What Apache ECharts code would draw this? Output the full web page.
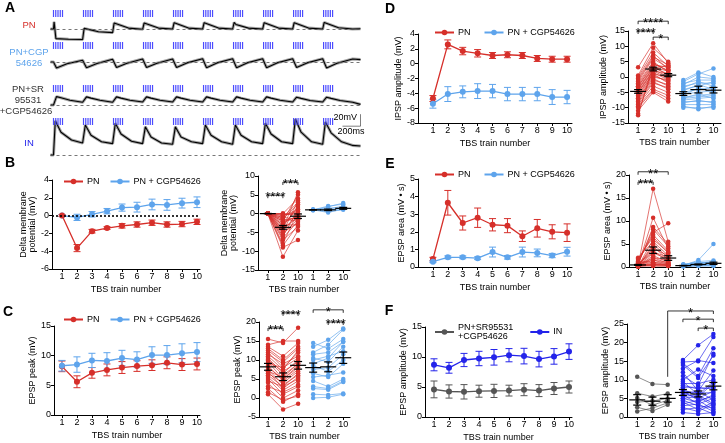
<!DOCTYPE html>
<html>
<head>
<meta charset="utf-8">
<script src="https://cdn.jsdelivr.net/npm/echarts@6/dist/echarts.min.js"></script>
<style>
  html, body { margin: 0; padding: 0; background: #fff; }
  #fig { width: 725px; height: 443px; }
</style>
</head>
<body>
<div id="fig"></div>
<script>
// ---------------- data ----------------
const trains = [1, 2, 3, 4, 5, 6, 7, 8, 9, 10];
const pairTicks = ['1', '2', '10', '1', '2', '10'];

// A: example traces, mV relative to baseline, sampled at phase fractions of each train
const trainOnset = [0, 1, 2, 3, 4, 5, 6, 7, 8, 9];
const burstOffset = [0, 0.075, 0.15, 0.225, 0.3];
const pnPhase = [0.02, 0.08, 0.5, 0.97];
const pnPeak  = [12, 1, 10, 10, 10.5, 10.5, 11, 10.5, 10.5, 11];
const pnEarly = [-16, -2, 7, 7, 7.5, 7.5, 7.5, 7.5, 7.5, 8];
const pnLate  = [-17, -4.5, 1.5, 1.5, 1.5, 1.5, 1.5, 1.5, 1.5, 2];
const pnEnd   = [-17.5, -6, -0.5, 0, 0, 0, 0, 0, 0, 0];
const pnTail = 0.5;
const cgpPhase = [0.02, 0.1, 0.45, 0.97];
const cgpPeak  = [3, 6, 6.5, 6.5, 7, 7, 7, 7, 7, 7];
const cgpEarly = [-10, -9.5, -9, -9, -9, -9.5, -9.5, -9.5, -9, -10];
const cgpLate  = [-3, -2.5, -2, -2, -1.5, -1.5, -1.5, -1.5, -1.5, -2];
const cgpEnd   = [3, 4.5, 5, 5, 5.5, 5.5, 5.5, 5.5, 5.5, 5];
const cgpTail = 4;
const srPhase = [0.1, 0.25, 0.55, 0.97];
const srPeak  = [14, 13.5, 13.5, 13.5, 13.5, 13.5, 13.5, 13.5, 13, 13];
const srEarly = [12, 11.5, 11.5, 11.5, 11.5, 11.5, 11.5, 11.5, 11, 11];
const srLate  = [8, 8, 8, 8, 8, 8, 8, 8, 7.5, 7.5];
const srEnd   = [4.5, 4.5, 5, 5, 5, 5, 5, 5, 5, 4.5];
const srTail = 1;
const inPhase = [0.06, 0.25, 0.6, 0.97];
const inPeak  = [57, 50, 53, 47, 47, 50, 50, 53, 60, 55];
const inEarly = [38, 33, 35, 30, 30, 33, 33, 35, 38, 37];
const inLate  = [25, 22, 23, 20, 22, 22, 22, 22, 22, 22];
const inEnd   = [20, 19, 19, 18, 19, 18, 19, 19, 18, 16];
const inTail = 15;

// B: delta membrane potential (mV)
const bPN     = [0, -3.65, -1.75, -1.4, -1.15, -1.0, -0.8, -1.0, -0.95, -0.7];
const bPNErr  = [0.1, 0.4, 0.2, 0.15, 0.25, 0.3, 0.3, 0.3, 0.3, 0.3];
const bCGP    = [0, -0.2, 0.15, 0.5, 0.9, 0.95, 1.25, 1.2, 1.4, 1.5];
const bCGPErr = [0.1, 0.35, 0.3, 0.3, 0.4, 0.55, 0.6, 0.6, 0.55, 0.6];
const bPN_t1  = [0, 0, 0, 0, 0, 0, 0, 0, 0, 0, 0, 0, 0, 0, 0, 0, 0, 0, 0, 0, 0, 0, 0, 0, 0, 0, 0, 0];
const bPN_t2  = [-11.5, -9, -8.5, -8, -7, -6.5, -6, -5.5, -5, -5, -4.5, -4, -4, -3.5, -3, -3, -2.5, -2, -2, -1.5, -1.5, -1, -1, -0.5, -0.5, 0, 0, -0.2];
const bPN_t10 = [-4.5, -7, -3, 0.5, -3.5, -2, 1, -1.5, 3.5, -2.5, 0, 5.7, -1, 2, -3, 1.5, -0.5, 5, -1, 2.5, -2, 3, -1.5, 0.5, 1, -0.5, 4, 0];
const bCGP_t1  = [1.0, 1.0, 0.9, 1.0, 1.1, 1.0, 0.9, 1.0];
const bCGP_t2  = [0.3, 0.6, 0.8, 1.0, 1.2, 1.5, 1.8, 2.0];
const bCGP_t10 = [1.2, 1.0, 1.6, 1.3, 2.0, 1.5, 2.8, 2.5];
const bPairPN = [0, -3.65, -0.7], bPairPNSem = [0.05, 0.5, 0.6];
const bPairCGP = [1.0, 1.0, 1.4], bPairCGPSem = [0.05, 0.2, 0.25];
const bSig = [[1, 2, 4.9, '****'], [2, 3, 8.4, '***']];

// C: EPSP peak (mV)
const cPN     = [8.2, 5.6, 7.1, 7.6, 8.0, 8.25, 8.4, 8.8, 8.5, 8.6];
const cPNErr  = [0.9, 1.0, 0.9, 1.0, 1.0, 0.9, 0.9, 1.0, 1.0, 1.0];
const cCGP    = [8.3, 8.5, 9.2, 9.1, 9.6, 9.35, 10.1, 10.1, 10.4, 10.6];
const cCGPErr = [0.9, 1.3, 1.2, 1.4, 1.3, 1.3, 1.4, 1.6, 1.6, 1.6];
const cPN_t1  = [15.5, 14, 13.5, 13, 12.5, 12, 11.5, 11, 10.5, 10, 10, 9.5, 9, 8.5, 8, 7.5, 7, 7, 6.5, 6, 5.5, 5, 4.5, 4, 3, 2.5, 1.5, 1];
const cPN_t2  = [14.5, 15, 11, 10, 9.5, 8, 9, 7.5, 6.5, 7, 6, 5, 8, 4.5, 5, 3.5, 5.5, 2.5, 4, 3, 2, 1, 3, 0, 1.5, -1, -0.5, -3];
const cPN_t10 = [18.5, 15, 14.5, 13.5, 13, 12, 11, 12.5, 10, 9.5, 9, 8, 10.5, 7.5, 8.5, 6, 9, 5.5, 7, 5, 4.5, 3, 6.5, 2, 3.5, 1, 0.5, -1.5];
const cCGP_t1  = [14.5, 13.5, 12, 11.5, 10.5, 10, 9, 8.5, 7.5, 6.5, 5.5, 4.5, 3, 2.5, 1, 0];
const cCGP_t2  = [13, 15.3, 14, 12, 9.5, 11, 10.5, 7, 8, 5.5, 6, 3, 2.5, 2.2, 0.8, 0.2];
const cCGP_t10 = [15.5, 18.3, 18, 14.8, 13.5, 12.3, 14.8, 10, 11.5, 9, 6.7, 5, 4.5, 4.2, 1.2, 1];
const cPairPN = [8.2, 5.6, 8.6], cPairPNSem = [0.9, 1.0, 1.0];
const cPairCGP = [8.0, 8.2, 10.6], cPairCGPSem = [1.2, 1.3, 1.5];
const cSig = [[1, 2, 18.4, '***'], [2, 3, 22.4, '****'], [4, 6, 23.2, '*'], [5, 6, 20, '****']];

// D: IPSP amplitude (mV)
const dPN     = [-4.7, 2.6, 1.7, 1.4, 1.1, 1.2, 1.1, 0.7, 0.6, 0.6];
const dPNErr  = [0.4, 0.6, 0.5, 0.5, 0.4, 0.4, 0.4, 0.4, 0.4, 0.4];
const dCGP    = [-5.4, -4.1, -3.8, -3.7, -3.7, -4.1, -4.1, -4.1, -4.5, -4.5];
const dCGPErr = [0.6, 1.0, 0.8, 1.0, 0.9, 0.9, 0.9, 0.9, 1.0, 0.9];
const dPN_t1  = [3.2, 0.5, 0, -0.5, -1, -1.5, -2, -2.5, -3, -3, -3.5, -4, -4, -4.5, -5, -5, -5.5, -6, -6.5, -7, -7, -7.5, -8, -8.5, -9, -9.5, -10, -11, -12, -12.5];
const dPN_t2  = [11, 9.5, 8, 7, 6.5, 6, 5, 4.5, 4, 3.5, 3, 3, 2.5, 2, 2, 1.5, 1, 1, 0.5, 0, -0.5, -1, -1.5, -2, -3, -4, -4.5, -5, 2.8, 4.2];
const dPN_t10 = [4.5, 5, 3.5, 2.5, 4, 3, 1.5, 2, 3.2, 0.5, 1, 2, 0, -0.5, 1, -1, 0, -2, -1.5, -1, -3, -2.5, -4, -3.5, -5, -6, -7, -8, 3.8, 2.2];
const dCGP_t1  = [-1, -1.5, -2, -2.5, -3, -3.5, -4, -4.5, -5, -5.5, -6, -6.5, -7, -7, -7.5, -8, -8.5, -9, -9.5, -10];
const dCGP_t2  = [1.5, 1, -1, 0, -2, -1.5, -3, -2.5, -4, -5, -3.5, -6, -6.5, -5.5, -7, -8, -7.5, -9, -10.5, -10];
const dCGP_t10 = [0, 2.8, -1, -0.5, -2, -3, -1.5, -4, -3.5, -4.5, -5, -5.5, -6, -7, -6.5, -8, -8.5, -9, -9.5, -10];
const dPairPN = [-4.7, 2.6, 0.6], dPairPNSem = [0.6, 0.6, 0.5];
const dPairCGP = [-5.4, -4.1, -4.3], dPairCGPSem = [0.6, 1.1, 0.9];
const dSig = [[1, 3, 18.2, '****'], [1, 2, 15, '****'], [2, 3, 13, '*']];

// E: EPSP area (mV*s)
const ePN     = [0.45, 3.65, 2.5, 2.8, 2.4, 2.35, 1.75, 2.2, 2.0, 1.95];
const ePNErr  = [0.1, 0.7, 0.4, 0.55, 0.35, 0.4, 0.3, 0.5, 0.4, 0.5];
const eCGP    = [0.3, 0.55, 0.55, 0.5, 0.85, 0.55, 0.85, 0.8, 0.65, 0.87];
const eCGPErr = [0.05, 0.08, 0.08, 0.08, 0.28, 0.1, 0.28, 0.22, 0.12, 0.25];
const ePN_t1  = [0.2, 0.3, 0.5, 0.8, 1, 1.5, 1.8, 2, 0.1, 0.2, 0.4, 0.6, 0.3, 0.2, 0.5, 0.1, 0.3, 0.7, 1.2, 0.4, 0.2, 0.1, 0.3, 0.5, 0.2, 0.6, 0.1, 0.3];
const ePN_t2  = [17, 10.7, 8.7, 8.2, 7.5, 7, 6.5, 5.5, 5, 4.5, 4, 3.5, 3, 2.5, 2, 2, 1.5, 1.5, 1, 1, 0.8, 0.5, 0.5, 0.3, 0.2, 3.2, 6, 0.6];
const ePN_t10 = [5.5, 4, 5, 4.5, 9.5, 3.5, 3, 2.5, 2, 1.5, 2.5, 1.2, 1.8, 1, 0.8, 1.5, 0.6, 1, 0.5, 0.8, 0.4, 0.3, 0.5, 0.2, 0.2, 2.2, 3.2, 0.4];
const eCGP_t1  = [0.2, 0.3, 0.4, 0.5, 0.3, 0.2, 0.6, 0.4, 0.1, 0.3, 0.5, 0.2];
const eCGP_t2  = [0.4, 1.5, 0.8, 1.2, 0.5, 0.3, 1.0, 0.6, 0.2, 0.7, 0.9, 0.4];
const eCGP_t10 = [0.5, 5, 1.2, 1.4, 0.6, 0.3, 0.9, 0.7, 0.2, 1.1, 0.8, 0.4];
const ePairPN = [0.45, 3.65, 1.95], ePairPNSem = [0.1, 0.7, 0.5];
const ePairCGP = [0.3, 0.55, 0.8], ePairCGPSem = [0.05, 0.1, 0.25];
const eSig = [[1, 3, 20.7, '**'], [1, 2, 18.5, '***']];

// F: EPSP amplitude (mV)
const fSR     = [4.6, 4.25, 4.2, 4.3, 4.35, 4.4, 4.55, 4.4, 4.75, 5.0];
const fSRErr  = [1.4, 1.1, 1.2, 1.0, 1.1, 0.9, 1.0, 1.0, 1.0, 1.0];
const fIN     = [8.7, 8.2, 9.5, 9.75, 9.95, 10.3, 10.15, 9.65, 10.1, 10.9];
const fINErr  = [1.0, 0.9, 1.1, 1.2, 1.3, 1.1, 1.3, 1.3, 1.3, 1.3];
const fSR_t1  = [10.8, 6.4, 5.1, 4, 2.6, 1.5];
const fSR_t2  = [8.9, 5.5, 3.2, 4.3, 1.6, 2.4];
const fSR_t10 = [8.7, 6.3, 4.5, 5.0, 3.3, 3.8];
const fIN_t1  = [15.3, 14.8, 14.5, 14, 13, 12, 11, 10, 9.5, 9, 8.5, 8, 7.5, 7, 7, 6.5, 6, 6, 5.5, 5, 5, 4.5, 4, 3.5, 3, 2.5, 2, 1.2];
const fIN_t2  = [19.3, 15, 11, 10.5, 15.2, 7, 8.5, 12.8, 6, 9, 7.5, 8, 5.5, 6.5, 4.5, 5, 7, 3.5, 6, 4, 5.5, 3, 2, 4.5, 3.5, 1.5, 2.5, 0.8];
const fIN_t10 = [22.3, 21.5, 18.5, 16.5, 14.5, 12.5, 17, 11, 9.5, 10, 8, 7.5, 9, 6.5, 5.5, 7, 4.5, 5, 3.5, 6, 3, 2.5, 4, 2, 1.5, 3.5, 0.8, 1.2];
const fPairSR = [4.6, 4.25, 5.0], fPairSRSem = [1.4, 1.1, 1.0];
const fPairIN = [6.6, 6.2, 8.3], fPairINSem = [0.8, 0.8, 1.0];
const fSig = [[3, 6, 28.5, '*', 10.8], [4, 6, 26.3, '*'], [5, 6, 23.9, '*']];

// ---------------- styling ----------------
const RED = '#d62f2a', BLUE = '#5ea4ec', GRAY = '#555555', INBLUE = '#2323ea', STIM = '#4b4bff';
const FONT = '"Liberation Sans", Arial, Helvetica, sans-serif';
const MV_PX = 0.6;   // trace scale: px per mV
const grids = [], xAxis = [], yAxis = [], series = [], legend = [], graphic = [];

function addGrid(box, xa, ya) {
  const gi = grids.length;
  grids.push(box);
  xAxis.push(Object.assign({ gridIndex: gi }, xa));
  yAxis.push(Object.assign({ gridIndex: gi }, ya));
  return gi;
}
const axLine = { show: true, onZero: false, lineStyle: { color: '#000', width: 1 } };
const axName = { fontSize: 9, color: '#000', fontFamily: FONT };

function trainX(min, max) {
  return { type: 'value', min, max, axisLine: axLine, splitLine: { show: false },
    axisTick: { show: true, length: 3, customValues: trains, lineStyle: { color: '#000' } },
    axisLabel: { customValues: trains, fontSize: 9, color: '#000', margin: 3, fontFamily: FONT },
    name: 'TBS train number', nameLocation: 'middle', nameGap: 16, nameTextStyle: axName };
}
function pairX(min, max) {
  const pos = [1, 2, 3, 4, 5, 6];
  return { type: 'value', min, max, axisLine: axLine, splitLine: { show: false },
    axisTick: { show: true, length: 3, customValues: pos, lineStyle: { color: '#000' } },
    axisLabel: { customValues: pos, fontSize: 9, color: '#000', margin: 3, fontFamily: FONT,
      formatter: v => pairTicks[Math.round(v) - 1] },
    name: 'TBS train number', nameLocation: 'middle', nameGap: 15, nameTextStyle: axName };
}
function valY(min, max, interval, name, gap) {
  return { type: 'value', min, max, interval, axisLine: axLine, splitLine: { show: false },
    axisTick: { show: true, length: 3, lineStyle: { color: '#000' } },
    axisLabel: { fontSize: 9, color: '#000', margin: 3, fontFamily: FONT },
    name, nameLocation: 'middle', nameRotate: 90, nameGap: gap, nameTextStyle: axName };
}
function hidden(min, max) {
  return { type: 'value', min, max, show: false, splitLine: { show: false } };
}

function errRender(params, api) {
  const x = api.value(0), lo = api.coord([x, api.value(1)]), hi = api.coord([x, api.value(2)]);
  const st = { stroke: api.visual('color'), lineWidth: 1 };
  return { type: 'group', children: [
    { type: 'line', shape: { x1: lo[0], y1: lo[1], x2: hi[0], y2: hi[1] }, style: st },
    { type: 'line', shape: { x1: lo[0] - 3.5, y1: lo[1], x2: lo[0] + 3.5, y2: lo[1] }, style: st },
    { type: 'line', shape: { x1: hi[0] - 3.5, y1: hi[1], x2: hi[0] + 3.5, y2: hi[1] }, style: st }
  ] };
}
function meanRender(params, api) {
  const x = api.value(0), m = api.value(1), s = api.value(2);
  const c = api.coord([x, m]), lo = api.coord([x, m - s]), hi = api.coord([x, m + s]);
  const st = { stroke: '#000', lineWidth: 1.2 };
  return { type: 'group', children: [
    { type: 'line', shape: { x1: c[0] - 8, y1: c[1], x2: c[0] + 8, y2: c[1] }, style: st },
    { type: 'line', shape: { x1: c[0], y1: lo[1], x2: c[0], y2: hi[1] }, style: st },
    { type: 'line', shape: { x1: c[0] - 4, y1: lo[1], x2: c[0] + 4, y2: lo[1] }, style: st },
    { type: 'line', shape: { x1: c[0] - 4, y1: hi[1], x2: c[0] + 4, y2: hi[1] }, style: st }
  ] };
}

function meanSeries(gi, name, color, means, errs, extra) {
  series.push({ type: 'custom', xAxisIndex: gi, yAxisIndex: gi, silent: true, z: 2,
    itemStyle: { color }, renderItem: errRender, encode: { x: 0, y: [1, 2] },
    data: means.map((m, i) => [trains[i], m - errs[i], m + errs[i]]) });
  series.push(Object.assign({ type: 'line', name, xAxisIndex: gi, yAxisIndex: gi, z: 3,
    data: means.map((m, i) => [trains[i], m]), symbol: 'circle', symbolSize: 6,
    itemStyle: { color }, lineStyle: { color, width: 1.3 } }, extra || {}));
}
function pairSeries(gi, color, off, t1, t2, t10, mean, sem) {
  const xs = [off + 1, off + 2, off + 3];
  series.push({ type: 'lines', coordinateSystem: 'cartesian2d', xAxisIndex: gi, yAxisIndex: gi,
    polyline: true, silent: true, z: 1, lineStyle: { color, width: 0.7, opacity: 0.95 },
    data: t1.map((v, i) => ({ coords: [[xs[0], v], [xs[1], t2[i]], [xs[2], t10[i]]] })) });
  const pts = [];
  t1.forEach((v, i) => { pts.push([xs[0], v], [xs[1], t2[i]], [xs[2], t10[i]]); });
  series.push({ type: 'scatter', xAxisIndex: gi, yAxisIndex: gi, silent: true, z: 2,
    symbolSize: 4.5, itemStyle: { color, opacity: 1 }, data: pts });
  series.push({ type: 'custom', xAxisIndex: gi, yAxisIndex: gi, silent: true, z: 4,
    renderItem: meanRender, encode: { x: 0, y: 1 }, data: mean.map((m, i) => [xs[i], m, sem[i]]) });
}
function sigSeries(gi, list) {
  series.push({ type: 'custom', xAxisIndex: gi, yAxisIndex: gi, silent: true, z: 5, clip: false,
    encode: { x: 0, y: 1 }, data: list.map(b => [b[0], b[2]]),
    renderItem: function (params, api) {
      const b = list[params.dataIndex];
      const a = api.coord([b[0], b[2]]), c = api.coord([b[1], b[2]]);
      const leftEnd = b.length > 4 ? api.coord([b[0], b[4]])[1] : a[1] + 3;
      return { type: 'group', children: [
        { type: 'polyline', shape: { points: [[a[0], leftEnd], a, c, [c[0], c[1] + 3]] },
          style: { stroke: '#000', lineWidth: 0.8, fill: null } },
        { type: 'text', style: { text: b[3], x: (a[0] + c[0]) / 2, y: a[1] + 2.5, align: 'center',
          verticalAlign: 'middle', fontSize: 13, fill: '#000', fontFamily: FONT } }
      ] };
    } });
}
function panelLegend(left, top, names, gap) {
  legend.push({ left, top, padding: 0, itemWidth: 19, itemHeight: 7, itemGap: gap,
    textStyle: { fontSize: 9, color: '#000', fontFamily: FONT, padding: [0, 0, 0, -1] },
    data: names, selectedMode: false });
}
function label(text, x, y, color, opts) {
  graphic.push({ type: 'text', x, y, silent: true, style: Object.assign({ text, fill: color,
    fontSize: 9.5, fontFamily: FONT, align: 'center', verticalAlign: 'middle' }, opts || {}) });
}

// ---------------- panel A: traces ----------------
function tracePoints(phase, peak, early, late, end, tail) {
  const pts = [[-0.1, 0]];
  let prev = 0;
  trainOnset.forEach((t, i) => {
    pts.push([t, prev], [t + phase[0], peak[i]], [t + phase[1], early[i]],
             [t + phase[2], late[i]], [t + phase[3], end[i]]);
    prev = end[i];
  });
  pts.push([10.23, tail]);
  return pts;
}
const stimTimes = [];
trainOnset.forEach(t => burstOffset.forEach(o => stimTimes.push([t + o, 0])));

const rowLayout = [
  { top: 10, base: 29, bottom: 45 },
  { top: 42, base: 62, bottom: 72 },
  { top: 85, base: 105, bottom: 110 },
  { top: 118, base: 155, bottom: 160 }
];
const rowTraces = [
  tracePoints(pnPhase, pnPeak, pnEarly, pnLate, pnEnd, pnTail),
  tracePoints(cgpPhase, cgpPeak, cgpEarly, cgpLate, cgpEnd, cgpTail),
  tracePoints(srPhase, srPeak, srEarly, srLate, srEnd, srTail),
  tracePoints(inPhase, inPeak, inEarly, inLate, inEnd, inTail)
];
const rowGrids = rowLayout.map((r, k) => {
  const gi = addGrid({ left: 50.5, top: r.top, width: 310, height: r.bottom - r.top },
    hidden(-0.1, 10.23), hidden(-(r.bottom - r.base) / MV_PX, (r.base - r.top) / MV_PX));
  series.push({ type: 'line', xAxisIndex: gi, yAxisIndex: gi, data: rowTraces[k], symbol: 'none',
    silent: true, clip: false, z: 1, lineStyle: { color: '#a5a5a5', width: 3 } });
  series.push({ type: 'line', xAxisIndex: gi, yAxisIndex: gi, data: rowTraces[k], symbol: 'none',
    silent: true, clip: false, z: 2, lineStyle: { color: '#000', width: 1.1 },
    markLine: { silent: true, symbol: 'none', label: { show: false },
      lineStyle: { type: [3, 3], color: '#555', width: 0.8 }, data: [{ yAxis: 0 }] } });
  series.push({ type: 'custom', xAxisIndex: gi, yAxisIndex: gi, silent: true, z: 3,
    encode: { x: 0, y: 1 }, data: stimTimes,
    renderItem: function (params, api) {
      const x = api.coord([api.value(0), 0])[0], y0 = params.coordSys.y;
      return { type: 'line', shape: { x1: x, y1: y0, x2: x, y2: y0 + 7 },
        style: { stroke: STIM, lineWidth: 1.2 } };
    } });
  return gi;
});
// scale bar: 200 ms (0.6 train units) and 20 mV, drawn in the IN row
series.push({ type: 'lines', coordinateSystem: 'cartesian2d', xAxisIndex: rowGrids[3],
  yAxisIndex: rowGrids[3], polyline: true, silent: true, clip: false,
  lineStyle: { color: '#000', width: 1 },
  data: [{ coords: [[9.63, 48], [10.23, 48], [10.23, 68]] }] });
label('20mV', 357, 118, '#000', { align: 'right', fontSize: 9 });
label('200ms', 351, 132, '#000', { fontSize: 9 });

label('PN', 29, 25, RED);
label('PN+CGP', 29, 52, BLUE);
label('54626', 29, 63, BLUE);
label('PN+SR', 28, 89, '#333');
label('95531', 28, 100, '#333');
label('+CGP54626', 26, 111, '#333');
label('IN', 29, 143, INBLUE);

// ---------------- panels B-F ----------------
let g;
// B
g = addGrid({ left: 52, top: 180, width: 148, height: 89 }, trainX(0.33, 10.2),
  valY(-6, 4, 2, 'Delta membrane\npotential (mV)', 13));
meanSeries(g, 'PN + CGP54626', BLUE, bCGP, bCGPErr, {
  markLine: { silent: true, symbol: 'none', label: { show: false },
    lineStyle: { type: [2, 2], color: '#000', width: 1.6 }, data: [{ yAxis: 0 }] } });
meanSeries(g, 'PN', RED, bPN, bPNErr);
panelLegend(63, 177, ['PN', 'PN + CGP54626'], 10);
g = addGrid({ left: 258, top: 176, width: 92, height: 94 }, pairX(0.35, 6.45),
  valY(-15, 10, 5, 'Delta membrane\npotential (mV)', 14));
pairSeries(g, RED, 0, bPN_t1, bPN_t2, bPN_t10, bPairPN, bPairPNSem);
pairSeries(g, BLUE, 3, bCGP_t1, bCGP_t2, bCGP_t10, bPairCGP, bPairCGPSem);
sigSeries(g, bSig);

// C
g = addGrid({ left: 54, top: 326, width: 146, height: 89 }, trainX(0.47, 10.2),
  valY(0, 15, 5, 'EPSP peak (mV)', 16));
meanSeries(g, 'PN', RED, cPN, cPNErr);
meanSeries(g, 'PN + CGP54626', BLUE, cCGP, cCGPErr);
g = addGrid({ left: 259, top: 322, width: 91, height: 95 }, pairX(0.4, 6.45),
  valY(-5, 20, 5, 'EPSP peak (mV)', 15));
pairSeries(g, RED, 0, cPN_t1, cPN_t2, cPN_t10, cPairPN, cPairPNSem);
pairSeries(g, BLUE, 3, cCGP_t1, cCGP_t2, cCGP_t10, cPairCGP, cPairCGPSem);
sigSeries(g, cSig);
panelLegend(63, 315, ['PN', 'PN + CGP54626'], 10);

// D
g = addGrid({ left: 418, top: 34, width: 154, height: 89 }, trainX(0, 10.33),
  valY(-8, 4, 2, 'IPSP amplitude (mV)', 13));
meanSeries(g, 'PN', RED, dPN, dPNErr);
meanSeries(g, 'PN + CGP54626', BLUE, dCGP, dCGPErr);
panelLegend(434, 28, ['PN', 'PN + CGP54626'], 13);
g = addGrid({ left: 628, top: 31, width: 93, height: 92 }, pairX(0.33, 6.5),
  valY(-15, 15, 5, 'IPSP amplitude (mV)', 15));
pairSeries(g, RED, 0, dPN_t1, dPN_t2, dPN_t10, dPairPN, dPairPNSem);
pairSeries(g, BLUE, 3, dCGP_t1, dCGP_t2, dCGP_t10, dPairCGP, dPairCGPSem);
sigSeries(g, dSig);

// E
g = addGrid({ left: 418, top: 179, width: 154, height: 88 }, trainX(0, 10.33),
  valY(0, 5, 1, 'EPSP area (mV \u2022 s)', 11));
meanSeries(g, 'PN', RED, ePN, ePNErr);
meanSeries(g, 'PN + CGP54626', BLUE, eCGP, eCGPErr);
panelLegend(434, 170, ['PN', 'PN + CGP54626'], 13);
g = addGrid({ left: 629, top: 175, width: 92, height: 92 }, pairX(0.4, 6.5),
  valY(0, 20, 5, 'EPSP area (mV \u2022 s)', 17));
pairSeries(g, RED, 0, ePN_t1, ePN_t2, ePN_t10, ePairPN, ePairPNSem);
pairSeries(g, BLUE, 3, eCGP_t1, eCGP_t2, eCGP_t10, ePairCGP, ePairCGPSem);
sigSeries(g, eSig);

// F
g = addGrid({ left: 425, top: 327, width: 147, height: 90 }, trainX(0.4, 10.2),
  valY(0, 15, 5, 'EPSP amplitude (mV)', 12));
meanSeries(g, 'PN+SR95531\n+CGP54626', GRAY, fSR, fSRErr);
meanSeries(g, 'IN', INBLUE, fIN, fINErr);
panelLegend(434, 323, ['PN+SR95531\n+CGP54626', 'IN'], 16);
g = addGrid({ left: 627, top: 324, width: 94, height: 93 }, pairX(0.33, 6.5),
  valY(0, 25, 5, 'EPSP amplitude (mV)', 15));
pairSeries(g, GRAY, 0, fSR_t1, fSR_t2, fSR_t10, fPairSR, fPairSRSem);
pairSeries(g, INBLUE, 3, fIN_t1, fIN_t2, fIN_t10, fPairIN, fPairINSem);
sigSeries(g, fSig);

// panel letters
[['A', 10, 8], ['B', 10, 163], ['C', 8, 312], ['D', 390, 9], ['E', 390, 164], ['F', 389, 311]]
  .forEach(p => label(p[0], p[1], p[2], '#000', { fontSize: 14, fontWeight: 'bold' }));

const chart = echarts.init(document.getElementById('fig'), null, { renderer: 'canvas' });
chart.setOption({
  animation: false,
  textStyle: { fontFamily: FONT },
  grid: grids, xAxis, yAxis, series, legend, graphic
});
</script>
</body>
</html>
